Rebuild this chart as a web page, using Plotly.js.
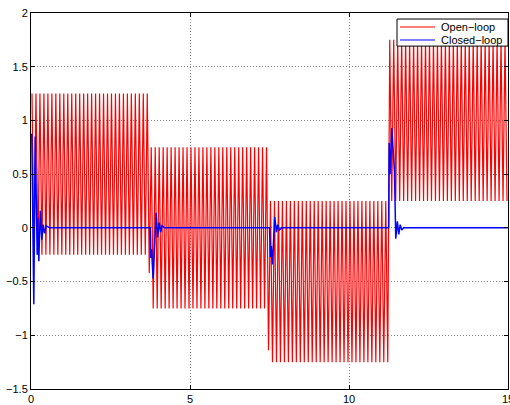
<!DOCTYPE html>
<html>
<head>
<meta charset="utf-8">
<script src="https://cdn.plot.ly/plotly-3.0.1.min.js"></script>
<style>html,body{margin:0;padding:0;background:#fff;}#chart{width:510px;height:405px;}</style>
</head>
<body>
<div id="chart"></div>
<script>
// Open-loop: piecewise oscillation
const segStart = [0, 3.75, 7.5, 11.25];
const segEnd = [3.75, 7.5, 11.25, 15];
const segHigh = [1.25, 0.75, 0.25, 1.75];
const segLow = [-0.25, -0.75, -1.25, 0.25];
const segLastLow = [-0.42, -1.14, -1.25, 0.25];
const cyclesPerSeg = [30, 30, 30, 30];

// Closed-loop transients (time, value)
const closedT = [0, 0.025, 0.088, 0.132, 0.195, 0.214, 0.246, 0.29, 0.34, 0.384, 0.425, 0.478, 0.58,
  3.75, 3.77, 3.79, 3.84, 3.935, 3.98, 4.03, 4.08, 4.12, 4.2,
  7.5, 7.53, 7.555, 7.59, 7.665, 7.72, 7.76, 7.81, 7.885,
  11.25, 11.262, 11.29, 11.345, 11.43, 11.47, 11.52, 11.565, 11.61, 11.66, 11.72, 15];
const closedY = [0.87, 0.87, -0.71, 0.85, -0.25, 0.09, -0.31, 0.16, -0.11, 0.03, -0.05, 0.02, 0,
  0, -0.28, -0.2, -0.47, 0.14, -0.09, 0.05, -0.04, 0.02, 0,
  0, -0.27, -0.17, -0.34, 0.1, -0.04, 0.03, -0.02, 0,
  0, 0.79, 0.5, 0.93, 0.52, -0.1, 0.06, -0.06, 0.03, -0.02, 0, 0];

const seriesNames = ['Open\u2212loop', 'Closed\u2212loop'];
const seriesColors = ['#ff0000', '#0000ff'];

const openT = [], openY = [];
for (let s = 0; s < segStart.length; s++) {
  const n = cyclesPerSeg[s];
  const P = (segEnd[s] - segStart[s]) / n;
  for (let i = 0; i < n; i++) {
    openT.push(segStart[s] + (i + 0.25) * P); openY.push(segHigh[s]);
    openT.push(segStart[s] + (i + 0.75) * P); openY.push(i === n - 1 ? segLastLow[s] : segLow[s]);
  }
}

const traces = [
  {x: openT, y: openY, type: 'scatter', mode: 'lines', name: seriesNames[0],
   line: {color: seriesColors[0], width: 1.2}, showlegend: false},
  {x: closedT, y: closedY, type: 'scatter', mode: 'lines', name: seriesNames[1],
   line: {color: seriesColors[1], width: 1.5}, showlegend: false}
];

const fontFam = 'Liberation Sans, Arial, sans-serif';
const axisCommon = {
  showline: true, linecolor: '#000', linewidth: 1, mirror: 'ticks',
  ticks: 'inside', ticklen: 4, tickcolor: '#000',
  showgrid: true, gridcolor: '#888', griddash: '1px,2px', gridwidth: 1,
  zeroline: false, ticklabeloverflow: 'allow',
  tickfont: {family: fontFam, size: 11, color: '#000'}
};

// Manual MATLAB-style legend box (paper coordinates)
const lg = {x0: 0.7673, x1: 1.0, y0: 0.912, y1: 0.984, lineX0: 0.7736, lineX1: 0.847, textX: 0.8553, rows: [0.9628, 0.9282]};
const shapes = [{type: 'rect', xref: 'paper', yref: 'paper', x0: lg.x0, x1: lg.x1, y0: lg.y0, y1: lg.y1,
  line: {color: '#000', width: 1}, fillcolor: '#fff', layer: 'above'}];
const annotations = [];
seriesNames.forEach((nm, i) => {
  shapes.push({type: 'line', xref: 'paper', yref: 'paper', x0: lg.lineX0, x1: lg.lineX1, y0: lg.rows[i], y1: lg.rows[i],
    line: {color: seriesColors[i], width: 1}, layer: 'above'});
  annotations.push({xref: 'paper', yref: 'paper', x: lg.textX, y: lg.rows[i], xanchor: 'left', yanchor: 'middle',
    text: nm, showarrow: false, font: {family: fontFam, size: 11, color: '#000'}});
});

const layout = {
  width: 510, height: 405,
  margin: {l: 31, r: 2, t: 13, b: 16, pad: 0},
  paper_bgcolor: '#fff', plot_bgcolor: '#fff',
  showlegend: false,
  shapes: shapes, annotations: annotations,
  xaxis: Object.assign({}, axisCommon, {range: [0, 15], tickvals: [0, 5, 10, 15]}),
  yaxis: Object.assign({}, axisCommon, {range: [-1.5, 2], tickvals: [-1.5, -1, -0.5, 0, 0.5, 1, 1.5, 2]})
};

Plotly.newPlot('chart', traces, layout, {staticPlot: true, displayModeBar: false});
</script>
</body>
</html>
